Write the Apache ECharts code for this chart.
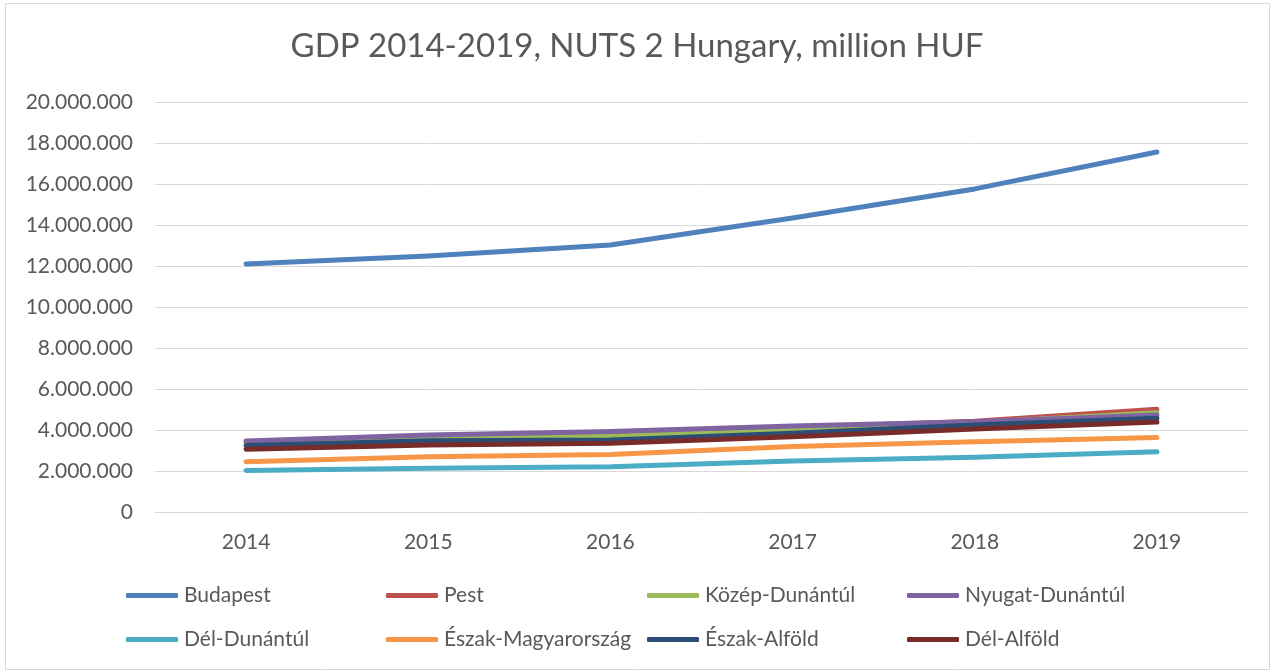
<!DOCTYPE html>
<html>
<head>
<meta charset="utf-8">
<script src="https://cdn.jsdelivr.net/npm/echarts@6/dist/echarts.min.js"></script>
<style>
  html, body { margin: 0; padding: 0; background: #fff; }
  #chart { width: 1274px; height: 672px; }
</style>
</head>
<body>
<div id="chart"></div>
<script>
// adatok (millió Ft)
var years = ['2014', '2015', '2016', '2017', '2018', '2019'];
var regions = ['Budapest', 'Pest', 'Közép-Dunántúl', 'Nyugat-Dunántúl',
               'Dél-Dunántúl', 'Észak-Magyarország', 'Észak-Alföld', 'Dél-Alföld'];
var budapest   = [12100000, 12490000, 13020000, 14340000, 15760000, 17560000];
var pest       = [3420000, 3720000, 3880000, 4120000, 4430000, 5010000];
var kozepDunantul  = [3350000, 3590000, 3690000, 3970000, 4360000, 4840000];
var nyugatDunantul = [3460000, 3760000, 3930000, 4200000, 4400000, 4730000];
var delDunantul    = [2020000, 2130000, 2210000, 2490000, 2670000, 2940000];
var eszakMagyar    = [2450000, 2700000, 2810000, 3190000, 3430000, 3640000];
var eszakAlfold    = [3240000, 3480000, 3510000, 3840000, 4240000, 4570000];
var delAlfold      = [3060000, 3270000, 3350000, 3670000, 4050000, 4390000];
var yTicks = [0, 20000000, 2000000];

var seriesData = [budapest, pest, kozepDunantul, nyugatDunantul,
                  delDunantul, eszakMagyar, eszakAlfold, delAlfold];
var colors = ['#4F81BD', '#C0504D', '#9BBB59', '#8064A2',
              '#4BACC6', '#F79646', '#2C4D75', '#772C2A'];

var font = 'Lato, "Noto Sans", sans-serif';

function fmt(v) {
    return String(v).replace(/\B(?=(\d{3})+(?!\d))/g, '.');
}

var myChart = echarts.init(document.getElementById('chart'));

// jelmagyarázat: 2 sor, 4 oszlop
var legendLeft = [126, 386, 647, 907];
var legendTop = [585, 629];
var legends = regions.map(function (name, i) {
    return {
        data: [name],
        left: legendLeft[i % 4],
        top: legendTop[Math.floor(i / 4)],
        icon: 'roundRect',
        itemWidth: 52,
        itemHeight: 5,
        padding: 0,
        textStyle: { color: '#595959', fontSize: 21, fontFamily: font, padding: [0, 0, 0, 1] }
    };
});

var option = {
    backgroundColor: '#fff',
    animation: false,
    color: colors,
    title: {
        text: 'GDP 2014-2019, NUTS 2 Hungary, million HUF',
        left: 'center',
        top: 25,
        textStyle: { color: '#595959', fontSize: 33, fontWeight: 'normal', fontFamily: font }
    },
    legend: legends,
    grid: { left: 155, right: 26, top: 102, bottom: 160, containLabel: false },
    xAxis: {
        type: 'category',
        data: years,
        boundaryGap: true,
        axisLine: { show: true, lineStyle: { color: '#d9d9d9', width: 1 } },
        axisTick: { show: false },
        axisLabel: { color: '#595959', fontSize: 21, fontFamily: font, margin: 20 }
    },
    yAxis: {
        type: 'value',
        min: yTicks[0],
        max: yTicks[1],
        interval: yTicks[2],
        axisLine: { show: false },
        axisTick: { show: false },
        splitLine: { lineStyle: { color: '#d9d9d9', width: 1 } },
        axisLabel: {
            color: '#595959', fontSize: 21, fontFamily: font, margin: 22,
            formatter: fmt
        }
    },
    series: regions.map(function (name, i) {
        return {
            name: name,
            type: 'line',
            data: seriesData[i],
            symbol: 'none',
            lineStyle: { width: 5, cap: 'round', join: 'round' }
        };
    }),
    graphic: [{
        type: 'rect',
        shape: { x: 5.5, y: 3.5, width: 1264, height: 666 },
        style: { fill: 'none', stroke: '#d9d9d9', lineWidth: 1 },
        silent: true
    }]
};

myChart.setOption(option);
</script>
</body>
</html>
